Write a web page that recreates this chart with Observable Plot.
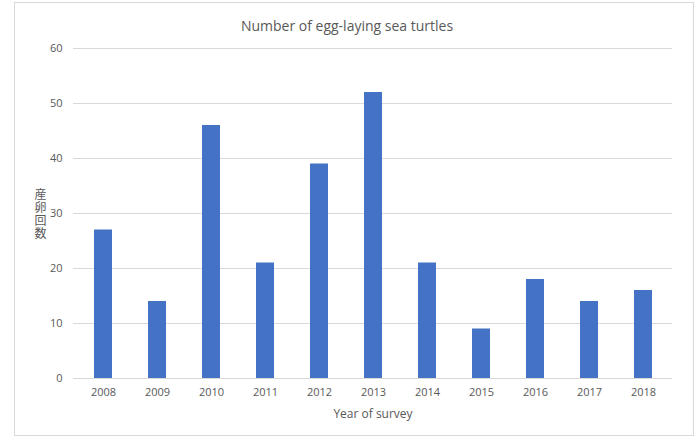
<!DOCTYPE html>
<html>
<head>
<meta charset="utf-8">
<script src="https://cdn.jsdelivr.net/npm/d3@7"></script>
<script src="https://cdn.jsdelivr.net/npm/@observablehq/plot@0.6"></script>
<style>
  html, body { margin: 0; padding: 0; background: #fff; }
  #wrap { position: relative; width: 700px; height: 442px; }
  #border { position: absolute; left: 14px; top: 2px; width: 680px; height: 434px; border: 1px solid #d9d9d9; box-sizing: border-box; pointer-events: none; }
  .vlabel text { writing-mode: vertical-rl; text-orientation: upright; letter-spacing: 1px; }
</style>
</head>
<body>
<div id="wrap"><div id="border"></div></div>
<script>
const years = ["2008","2009","2010","2011","2012","2013","2014","2015","2016","2017","2018"];
const counts = [27, 14, 46, 21, 39, 52, 21, 9, 18, 14, 16];
const yTicks = [0, 10, 20, 30, 40, 50, 60];
const title = "Number of egg-laying sea turtles";
const xLabel = "Year of survey";
const yLabel = "産卵回数";

const data = years.map((y, i) => ({year: y, count: counts[i]}));
const font = "'Open Sans', 'Noto Sans', sans-serif";

const chart = Plot.plot({
  width: 700,
  height: 442,
  marginTop: 48,
  marginBottom: 64,
  marginLeft: 73,
  marginRight: 28,
  style: {fontFamily: font, fontSize: "11px", color: "#595959", background: "transparent"},
  x: {domain: years, paddingInner: 0.67, paddingOuter: 0.335, label: null},
  y: {domain: [0, 60], label: null},
  marks: [
    Plot.gridY(yTicks, {stroke: "#d9d9d9", strokeOpacity: 1}),
    Plot.axisY(yTicks, {tickSize: 0, tickPadding: 11, fill: "#595959", fontSize: 11}),
    Plot.axisX({tickSize: 0, tickPadding: 10, fill: "#595959", fontSize: 11}),
    Plot.barY(data, {x: "year", y: "count", fill: "#4472C4"}),
    Plot.ruleY([0], {stroke: "#d9d9d9"}),
    Plot.text([title], {frameAnchor: "top", dx: -26, dy: -27, fontSize: 14, fill: "#595959"}),
    Plot.text([xLabel], {frameAnchor: "bottom", dy: 39, fontSize: 12, fill: "#595959"}),
    Plot.text([yLabel], {className: "vlabel", frameAnchor: "left", textAnchor: "middle", lineAnchor: "middle", dx: -33, dy: -3, fontSize: 12, fill: "#595959", fontFamily: "'Noto Sans CJK JP', sans-serif"})
  ]
});
document.getElementById("wrap").prepend(chart);
chart.style.position = "absolute";
chart.style.left = "0";
chart.style.top = "0";
</script>
</body>
</html>
